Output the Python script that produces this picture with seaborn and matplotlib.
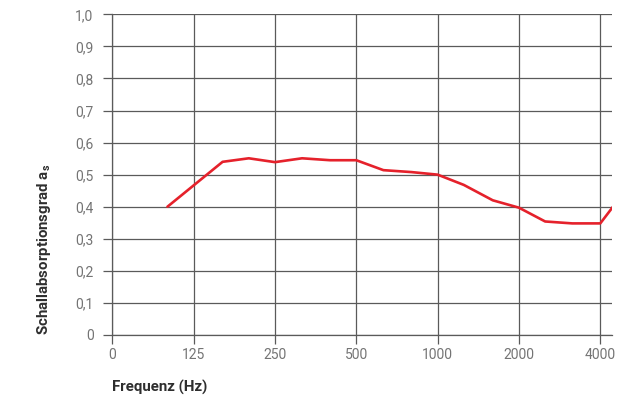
import numpy as np
import matplotlib
matplotlib.use("Agg")
import matplotlib.pyplot as plt
import seaborn as sns
import pandas as pd

# third-octave bands (Hz) and absorption coefficient
freq = [100, 160, 200, 250, 315, 400, 500, 630, 800, 1000, 1250, 1600, 2000, 2500, 3150, 4000, 5000]
alpha = [0.40, 0.54, 0.551, 0.539, 0.551, 0.545, 0.545, 0.514, 0.508, 0.50, 0.468, 0.42, 0.397, 0.354, 0.348, 0.348, 0.455]

xtick_pos = [62.5, 125, 250, 500, 1000, 2000, 4000]
xtick_lab = ['0', '125', '250', '500', '1000', '2000', '4000']
ytick_pos = [0, 0.1, 0.2, 0.3, 0.4, 0.5, 0.6, 0.7, 0.8, 0.9, 1.0]
ytick_lab = ['0', '0,1', '0,2', '0,3', '0,4', '0,5', '0,6', '0,7', '0,8', '0,9', '1,0']

df = pd.DataFrame({'freq': freq, 'alpha': alpha})

sns.set_style('white', {'xtick.bottom': True, 'ytick.left': True})
plt.rcParams['font.family'] = ['Roboto', 'DejaVu Sans']

grid_col = '#5a5a5a'
fig, ax = plt.subplots(figsize=(6.39, 4.03), dpi=100)
fig.subplots_adjust(left=112.3/639, right=612/639, top=1-14.3/403, bottom=1-335/403)

ax.set_xscale('log', base=2)
sns.lineplot(data=df, x='freq', y='alpha', color='#e5212b', linewidth=1.9, ax=ax)

ax.set_xlim(62.5, 4420)
ax.set_ylim(0, 1.0)
ax.set_xticks(xtick_pos)
ax.set_xticklabels(xtick_lab)
ax.minorticks_off()
ax.set_yticks(ytick_pos)
ax.set_yticklabels(ytick_lab)

ax.grid(True, color=grid_col, linewidth=0.9)
ax.set_axisbelow(True)
for s in ['top', 'right']:
    ax.spines[s].set_visible(False)
for s in ['left', 'bottom']:
    ax.spines[s].set_color(grid_col)
    ax.spines[s].set_linewidth(0.9)

ax.tick_params(axis='both', direction='out', length=6.5, width=0.9, color=grid_col,
               labelcolor='#747474', labelsize=10)
ax.tick_params(axis='y', pad=7, left=True)
ax.tick_params(axis='x', pad=3, bottom=True)

ax.set_xlabel('Frequenz (Hz)', loc='left', fontsize=10.8, fontweight='bold', color='#2e2e2e', labelpad=13)
ax.set_ylabel(r'Schallabsorptionsgrad a$_\mathregular{s}$', loc='bottom', fontsize=10.8,
              fontweight='bold', color='#2e2e2e', labelpad=16)

fig.savefig('out.png', dpi=100)
